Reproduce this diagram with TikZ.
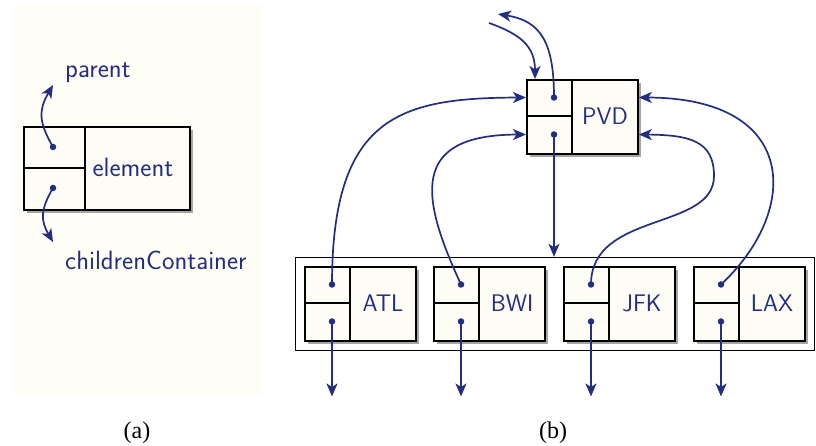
\documentclass[tikz,border=0pt]{standalone}
\usepackage{fontspec}
\newfontfamily\serifb{Liberation Serif}
\usetikzlibrary{arrows.meta,shadows,fit,calc}
\definecolor{navy}{RGB}{36,46,128}
\definecolor{cream}{RGB}{253,253,245}
\definecolor{panelbg}{RGB}{254,254,246}
\newcommand{\airport}[4]{%
  \node[cellbox, minimum width=111pt, minimum height=74pt, anchor=north west] (#1) at (#2,#3) {};
  \draw[divider] ($(#1.north west)+(46,0)$) -- ($(#1.south west)+(46,0)$);
  \draw[divider] ($(#1.north west)+(0,-37)$) -- ($(#1.north west)+(46,-37)$);
  \node[lbl, anchor=base] (#1-l) at ($(#1.north west)+(79,-46)$) {#4};
  \node[dotn] (#1-p) at ($(#1.north west)+(28,-18.5)$) {};
  \node[dotn] (#1-c) at ($(#1.north west)+(28,-55.5)$) {};
}
\begin{document}
\begin{tikzpicture}[x=1pt,y=1pt,
 cellbox/.style={draw=black, line width=1.8pt, fill=cream, inner sep=0pt,
   drop shadow={shadow xshift=3pt, shadow yshift=-3pt, fill=black!35, opacity=1}},
 divider/.style={draw=black, line width=1.8pt},
 dotn/.style={circle, fill=navy, inner sep=0pt, minimum size=6.5pt},
 lbl/.style={text=navy, font=\sffamily\fontsize{24}{28}\selectfont, inner sep=0pt},
 biglbl/.style={text=navy, font=\sffamily\fontsize{26.5}{30}\selectfont, inner sep=0pt},
 link/.style={navy, line width=1.7pt, -{Stealth[length=13pt,width=11pt,inset=3.5pt]}},
 sublbl/.style={font=\serifb\fontsize{24}{28}\selectfont, inner sep=0pt}
]
\useasboundingbox (0,0) rectangle (816,446);
\fill[panelbg] (13,50) rectangle (262,441);

% ---------- (a) ----------
\node[cellbox, minimum width=166pt, minimum height=83pt, anchor=north west] (el) at (23,320) {};
\draw[divider] ($(el.north west)+(62,0)$) -- ($(el.south west)+(62,0)$);
\draw[divider] ($(el.north west)+(0,-42)$) -- ($(el.north west)+(62,-42)$);
\node[biglbl, anchor=base] (el-l) at (133,269) {element};
\node[dotn] (el-p) at (53,299) {};
\node[dotn] (el-c) at (53,258) {};
\node[biglbl, anchor=base west] (partxt) at (65,368) {parent};
\node[biglbl, anchor=base west] (chtxt) at (65,176) {childrenContainer};
\coordinate (partip) at (53,361);
\coordinate (chtip) at (53,204);
\draw[link] (el-p.center) to[out=120,in=-120,looseness=1.2] (partip);
\draw[link] (el-c.center) to[out=-120,in=120,looseness=1.2] (chtip);
\node[sublbl] (suba) at (137,13.5) {(a)};

% ---------- (b) ----------
\airport{pvd}{526}{367}{PVD}
\airport{atl}{304}{180}{ATL}
\airport{bwi}{433}{180}{BWI}
\airport{jfk}{563}{180}{JFK}
\airport{lax}{693}{180}{LAX}
\node[draw=black, line width=1.4pt, fit=(atl)(lax), inner sep=8.5pt] (cont) {};

\coordinate (pin) at (489,423);
\coordinate (pout) at (498,432);
\draw[link] (pin) .. controls (520,412) and (535,400) .. (535,367);
\draw[link] (pvd-p.center) .. controls (554,405) and (540,425) .. (pout);
\draw[link] (pvd-c.center) -- (pvd-c |- cont.north);

\draw[link] (atl-p.center) .. controls (332,330) and (400,348) .. (pvd.west |- pvd-p);
\draw[link] (bwi-p.center) .. controls (420,250) and (410,311) .. (pvd.west |- pvd-c);
\draw[link] (jfk-p.center) .. controls (591,235) and (714,215) .. (714,270)
   .. controls (714,305) and (690,311) .. (pvd.east |- pvd-c);
\draw[link] (lax-p.center) .. controls (800,235) and (800,348) .. (pvd.east |- pvd-p);

\foreach \n in {atl,bwi,jfk,lax}{
  \coordinate (\n-out) at ($(\n-c)+(0,-75)$);
  \draw[link] (\n-c.center) -- (\n-out);
}
\node[sublbl] (subb) at (553,13.5) {(b)};
\end{tikzpicture}
\end{document}
